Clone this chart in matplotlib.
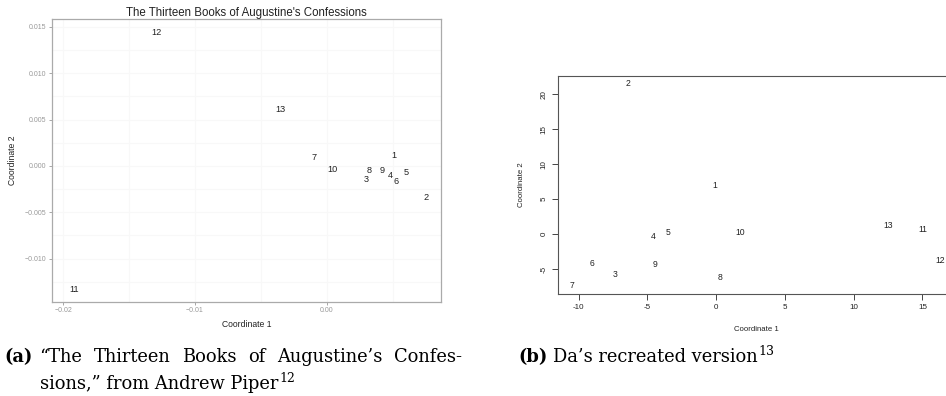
import matplotlib
matplotlib.use("Agg")
import matplotlib.pyplot as plt

W, H = 946, 396

# Piper's MDS of the thirteen books (left panel)
piper_books = ["1", "2", "3", "4", "5", "6", "7", "8", "9", "10", "11", "12", "13"]
piper_x = [0.00509, 0.00754, 0.00298, 0.00481, 0.00607, 0.00526, -0.00096,
           0.00321, 0.00420, 0.00043, -0.01921, -0.01289, -0.00349]
piper_y = [0.00115, -0.00345, -0.00144, -0.00104, -0.00072, -0.00165, 0.00094,
           -0.00047, -0.00047, -0.00043, -0.01331, 0.01439, 0.00612]
piper_xticks = [-0.02, -0.01, 0.00]
piper_xlabels = ["\u22120.02", "\u22120.01", "0.00"]
piper_yticks = [-0.010, -0.005, 0.000, 0.005, 0.010, 0.015]
piper_ylabels = ["\u22120.010", "\u22120.005", "0.000", "0.005", "0.010", "0.015"]

# Da's recreation (right panel)
da_books = ["1", "2", "3", "4", "5", "6", "7", "8", "9", "10", "11", "12", "13"]
da_x = [-0.12, -6.4, -7.35, -4.57, -3.53, -9.0, -10.45, 0.29, -4.43, 1.74, 15.05, 16.3, 12.5]
da_y = [7.0, 21.5, -5.7, -0.33, 0.24, -4.2, -7.4, -6.2, -4.3, 0.24, 0.6, -3.76, 1.3]
da_xticks = [-10, -5, 0, 5, 10, 15]
da_yticks = [-5, 0, 5, 10, 15, 20]

sans = "Liberation Sans"
serif = "DejaVu Serif"


def px_rect(x0, y0, x1, y1):
    # pixel box (top-left origin) -> figure fraction rect
    return [x0 / W, 1 - y1 / H, (x1 - x0) / W, (y1 - y0) / H]


fig = plt.figure(figsize=(W / 100, H / 100), dpi=100)

# ---- left: ggplot-style panel ----
ax1 = fig.add_axes(px_rect(51.7, 19.3, 441, 301.7))
ax1.set_xlim(-0.02088, 0.00868)
ax1.set_ylim(-0.01465, 0.01583)
for v in [-0.02, -0.015, -0.01, -0.005, 0.0, 0.005]:
    ax1.axvline(v, color="#f8f8f8", lw=0.8, zorder=0)
for v in [-0.0125, -0.01, -0.0075, -0.005, -0.0025, 0.0, 0.0025, 0.005,
          0.0075, 0.01, 0.0125, 0.015]:
    ax1.axhline(v, color="#f8f8f8", lw=0.8, zorder=0)
for b, x, y in zip(piper_books, piper_x, piper_y):
    ax1.text(x, y, b, ha="center", va="center", fontsize=6.6,
             family=sans, color="#222222")
ax1.set_xticks(piper_xticks, piper_xlabels)
ax1.set_yticks(piper_yticks, piper_ylabels)
ax1.tick_params(length=2.5, width=0.6, color="#999999", labelcolor="#999999",
                labelsize=5, pad=1.5)
for lab in ax1.get_xticklabels() + ax1.get_yticklabels():
    lab.set_family(sans)
for s in ax1.spines.values():
    s.set_color("#aaaaaa")
    s.set_linewidth(0.9)
ax1.set_title("The Thirteen Books of Augustine's Confessions", fontsize=8.3,
              family=sans, color="#222222", pad=2.5)
ax1.set_xlabel("Coordinate 1", fontsize=6.2, family=sans, color="#222222")
ax1.set_ylabel("Coordinate 2", fontsize=6.2, family=sans, color="#222222")
ax1.xaxis.set_label_coords(0.5, -0.065)
ax1.yaxis.set_label_coords(-0.089, 0.5)

# ---- right: R base-graphics plot (box runs past the right edge) ----
ax2 = fig.add_axes(px_rect(557.7, 75.7, 955, 294))
xr = max(da_x) - min(da_x)
yr = max(da_y) - min(da_y)
ax2.set_xlim(min(da_x) - 0.04 * xr, max(da_x) + 0.04 * xr)
ax2.set_ylim(min(da_y) - 0.04 * yr, max(da_y) + 0.04 * yr)
for b, x, y in zip(da_books, da_x, da_y):
    ax2.text(x, y, b, ha="center", va="center", fontsize=6.2,
             family=sans, color="#222222")
ax2.set_xticks(da_xticks, [str(t) for t in da_xticks])
ax2.set_yticks(da_yticks, [str(t) for t in da_yticks])
ax2.tick_params(length=4.5, width=0.7, color="#444444", labelcolor="#222222",
                labelsize=5.8, pad=3)
for lab in ax2.get_xticklabels():
    lab.set_family(sans)
for lab in ax2.get_yticklabels():
    lab.set_family(sans)
    lab.set_rotation(90)
    lab.set_va("center")
for s in ax2.spines.values():
    s.set_color("#555555")
    s.set_linewidth(0.8)
ax2.set_xlabel("Coordinate 1", fontsize=5.6, family=sans, color="#222222")
ax2.set_ylabel("Coordinate 2", fontsize=5.6, family=sans, color="#222222")
ax2.xaxis.set_label_coords((756 - 557.7) / (955 - 557.7), -(326 - 294) / (294 - 75.7))
ax2.yaxis.set_label_coords(-(557.7 - 525) / (955 - 557.7), 0.5)

# ---- captions ----
rend = fig.canvas.get_renderer()
cap_size = 12.9


def put(x, y, s, **kw):
    t = fig.text(x / W, 1 - y / H, s, va="baseline", ha="left",
                 family=serif, **kw)
    return t, t.get_window_extent(rend).width


def justified(words, x0, x1, y, **kw):
    items = [put(0, y, w, **kw) for w in words]
    gap = (x1 - x0 - sum(w for _, w in items)) / (len(items) - 1)
    x = x0
    for t, w in items:
        t.set_x(x / W)
        x += w + gap


put(4, 362, "(a)", fontsize=cap_size, weight="bold")
justified(["\u201cThe", "Thirteen", "Books", "of", "Augustine\u2019s", "Confes-"],
          39, 462, 362, fontsize=cap_size)
t, w = put(40, 389, "sions,\u201d from Andrew Piper", fontsize=cap_size)
put(40 + w + 1, 382, "12", fontsize=cap_size * 0.7)

put(518, 362, "(b)", fontsize=cap_size, weight="bold")
t, w = put(553, 362, "Da\u2019s recreated version", fontsize=cap_size)
put(553 + w + 1, 355, "13", fontsize=cap_size * 0.7)

fig.savefig("out.png", dpi=100)
